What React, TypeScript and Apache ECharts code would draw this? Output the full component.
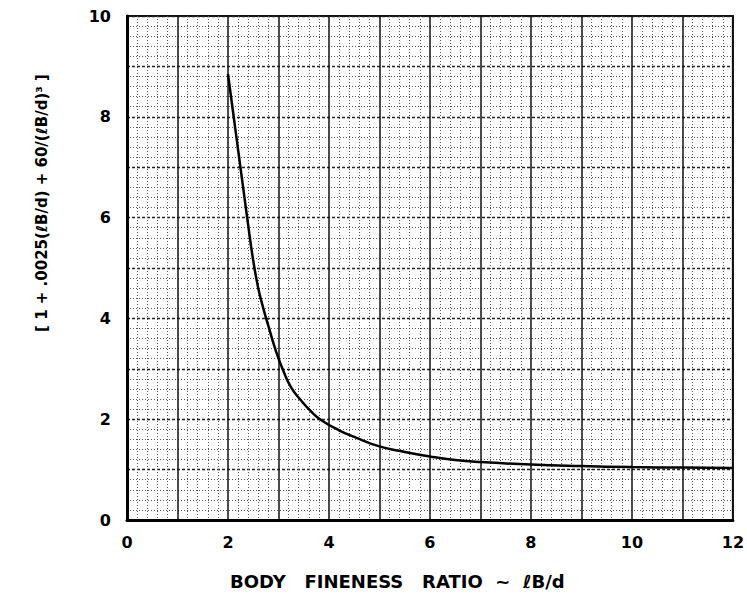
import React, { useEffect, useRef } from "react";
import * as echarts from "echarts";

const fineness: number[] = [2.0, 2.1, 2.2, 2.3, 2.4, 2.5, 2.6, 2.7, 2.8, 2.95, 3.1, 3.25, 3.44, 3.65, 3.85, 4.2, 4.5, 5.0, 5.5, 6.0, 6.5, 7.0, 8.0, 9.0, 10.0, 11.0, 12.0];
const factor: number[] = [8.85, 8.1, 7.35, 6.6, 5.85, 5.15, 4.6, 4.2, 3.85, 3.35, 2.95, 2.63, 2.38, 2.15, 1.98, 1.78, 1.65, 1.46, 1.35, 1.26, 1.19, 1.15, 1.1, 1.07, 1.05, 1.04, 1.03];
const xLabelTicks: number[] = [0, 2, 4, 6, 8, 10, 12];
const yLabelTicks: number[] = [0, 2, 4, 6, 8, 10];
const xTitle = "BODY   FINENESS   RATIO  ~  ℓB/d";
const yTitle = "[ 1 + .0025(ℓB/d) + 60/(ℓB/d)³ ]";

const FONT = "DejaVu Sans";

export default function App() {
  const ref = useRef<HTMLDivElement>(null);
  useEffect(() => {
    if (!ref.current) return;
    const chart = echarts.init(ref.current, undefined, { renderer: "svg" });
    const data = fineness.map((x, i) => [x, factor[i]]);
    chart.setOption({
      animation: false,
      backgroundColor: "#ffffff",
      grid: {
        left: 127,
        right: 9,
        top: 16,
        bottom: 82,
        show: true,
        borderColor: "#111",
        borderWidth: 2,
      },
      xAxis: {
        type: "value",
        min: 0,
        max: 12,
        interval: 1,
        axisLine: { show: true, lineStyle: { color: "#000", width: 3 } },
        axisTick: { show: false },
        axisLabel: {
          color: "#000",
          fontFamily: FONT,
          fontWeight: "bold",
          fontSize: 16,
          margin: 14,
          formatter: (v: number) => (xLabelTicks.includes(v) ? String(v) : ""),
        },
        splitLine: { show: true, lineStyle: { color: "#111", width: 1.5, type: "solid" } },
        minorTick: { show: false, splitNumber: 5 },
        minorSplitLine: { show: true, lineStyle: { color: "#555", width: 1, type: [1, 2] } },
      },
      yAxis: {
        type: "value",
        min: 0,
        max: 10,
        interval: 1,
        axisLine: { show: true, lineStyle: { color: "#000", width: 3 } },
        axisTick: { show: false },
        axisLabel: {
          color: "#000",
          fontFamily: FONT,
          fontWeight: "bold",
          fontSize: 16,
          margin: 16,
          formatter: (v: number) => (yLabelTicks.includes(v) ? String(v) : ""),
        },
        splitLine: { show: true, lineStyle: { color: "#222", width: 1.3, type: [3, 2] } },
        minorTick: { show: false, splitNumber: 5 },
        minorSplitLine: { show: true, lineStyle: { color: "#555", width: 1, type: [1, 2] } },
      },
      series: [
        {
          type: "line",
          data,
          smooth: 0.5,
          showSymbol: false,
          lineStyle: { color: "#000", width: 2.5 },
          z: 5,
        },
      ],
      graphic: [
        {
          type: "text",
          left: 230,
          top: 572,
          style: {
            text: xTitle,
            fill: "#000",
            font: `bold 18px "${FONT}"`,
          },
        },
        {
          type: "text",
          x: 42,
          y: 203,
          rotation: Math.PI / 2,
          style: {
            text: yTitle,
            fill: "#000",
            font: `bold 15px "${FONT}"`,
            align: "center",
            verticalAlign: "middle",
          },
        },
      ],
    });
    return () => chart.dispose();
  }, []);
  return (
    <div
      ref={ref}
      style={{ position: "fixed", left: 0, top: 0, width: 747, height: 602 }}
    />
  );
}
